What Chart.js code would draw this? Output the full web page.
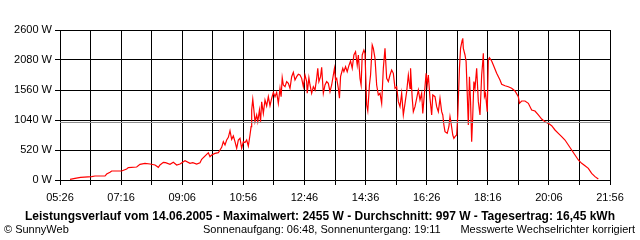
<!DOCTYPE html>
<html>
<head>
<meta charset="utf-8">
<script src="https://cdn.jsdelivr.net/npm/chart.js@4.4.1/dist/chart.umd.min.js"></script>
<style>
    body { margin: 0; background: #fff; }
    #wrap { position: relative; width: 640px; height: 240px; font-family: "Liberation Sans", Arial, sans-serif; color: #000; }
    #chart { position: absolute; left: 0; top: 0; }
    .txt { position: absolute; white-space: nowrap; font-size: 11px; line-height: 12px; }
    #title { left: 0; width: 640px; text-align: center; top: 209px; font-weight: bold; font-size: 12px; line-height: 14px; }
    #copy { left: 4px; top: 223px; }
    #sun { left: 203px; top: 223px; }
    #note { right: 5px; top: 223px; }
</style>
</head>
<body>
<div id="wrap">
    <canvas id="chart" width="640" height="240"></canvas>
    <div class="txt" id="title">Leistungsverlauf vom 14.06.2005 - Maximalwert: 2455 W - Durchschnitt: 997 W - Tagesertrag: 16,45 kWh</div>
    <div class="txt" id="copy">© SunnyWeb</div>
    <div class="txt" id="sun">Sonnenaufgang: 06:48, Sonnenuntergang: 19:11</div>
    <div class="txt" id="note">Messwerte Wechselrichter korrigiert</div>
</div>
<script>
// time of day in minutes (05:26 = 326 ... 21:56 = 1316)
var times = [
    344, 353, 363, 383, 389, 407, 410, 416, 419, 437, 446, 449, 464, 470, 479, 488, 497, 503, 506, 512,
    516, 524, 530, 536, 542, 551, 560, 565, 572, 578, 581, 590, 593, 596, 599, 605, 611, 614, 617, 620,
    623, 626, 629, 632, 635, 638, 641, 644, 647, 650, 653, 656, 659, 662, 665, 668, 670, 671, 673, 675,
    677, 680, 682, 685, 687, 689, 692, 695, 698, 701, 704, 707, 710, 713, 716, 719, 722, 724, 726, 728,
    731, 734, 737, 740, 743, 746, 749, 752, 755, 758, 761, 764, 767, 770, 771, 774, 776, 779, 782, 785,
    788, 790, 792, 795, 797, 800, 803, 806, 809, 812, 815, 818, 820, 822, 824, 827, 829, 831, 835, 837,
    840, 843, 846, 849, 852, 855, 858, 861, 863, 866, 868, 870, 873, 875, 878, 880, 883, 885, 888, 890,
    893, 896, 899, 902, 905, 908, 911, 914, 917, 920, 923, 926, 929, 932, 935, 938, 941, 944, 947, 950,
    953, 956, 957, 960, 962, 965, 968, 971, 974, 977, 979, 982, 985, 987, 989, 992, 995, 997, 1001, 1004,
    1007, 1010, 1013, 1015, 1017, 1019, 1023, 1026, 1028, 1030, 1033, 1035, 1037, 1040, 1042, 1045, 1047, 1050, 1051, 1052,
    1055, 1057, 1059, 1061, 1063, 1065, 1067, 1069, 1071, 1073, 1076, 1079, 1082, 1085, 1087, 1088, 1090, 1092, 1095, 1097,
    1099, 1103, 1106, 1112, 1118, 1121, 1127, 1133, 1139, 1145, 1151, 1153, 1157, 1163, 1169, 1175, 1181, 1187, 1193, 1199,
    1205, 1211, 1217, 1223, 1229, 1235, 1241, 1247, 1253, 1259, 1265, 1271, 1277, 1283, 1289, 1295
];
// power in W
var watts = [
    12, 29, 47, 58, 69, 69, 104, 133, 156, 156, 190, 214, 225, 271, 289, 277, 260, 220, 260, 306,
    300, 271, 306, 260, 277, 335, 289, 300, 277, 300, 358, 445, 473, 404, 433, 462, 473, 520, 566, 664,
    607, 693, 740, 855, 705, 763, 664, 549, 693, 722, 549, 664, 650, 693, 589, 780, 924, 1213, 1398, 1213,
    1011, 1127, 1011, 1213, 1011, 1357, 1155, 1387, 1283, 1444, 1288, 1416, 1520, 1444, 1520, 1329, 1589, 1444, 1774, 1647,
    1617, 1705, 1676, 1589, 1791, 1867, 1733, 1791, 1832, 1820, 1762, 1617, 1820, 1705, 1503, 1774, 1647, 1503, 1617, 1560,
    1762, 1936, 1705, 1791, 1953, 1503, 1647, 1705, 1676, 1531, 1647, 1820, 1936, 1733, 1762, 1589, 1416, 1791, 1936, 1878,
    1964, 1878, 1982, 2063, 1936, 2167, 2224, 1993, 2167, 1762, 1647, 2167, 2253, 2195, 1300, 1196, 1647, 1820, 2340, 2282,
    2109, 1647, 1473, 1503, 1329, 1936, 2282, 1762, 1705, 1820, 1907, 1849, 1589, 1617, 1358, 1271, 1503, 1127, 1329, 1531,
    1820, 1589, 1936, 1416, 1184, 1271, 1416, 1560, 1387, 1503, 1155, 1503, 1849, 1647, 1820, 1416, 1127, 1473, 1444, 1271,
    1184, 1416, 1184, 1127, 953, 837, 809, 924, 1098, 982, 780, 722, 751, 780, 1127, 1936, 2282, 2427, 2455, 2282,
    2167, 2051, 1503, 953, 1791, 1358, 664, 1127, 1705, 1589, 1936, 1358, 1127, 1820, 2051, 2195, 1444, 1503, 1184, 2080,
    2120, 2063, 1993, 1849, 1733, 1660, 1634, 1617, 1589, 1543, 1444, 1329, 1369, 1369, 1329, 1213, 1196, 1127, 1057, 1011,
    982, 941, 867, 809, 751, 693, 607, 520, 433, 347, 289, 248, 202, 116, 58, 17
];
var averageW = 997;
var xTickLabels = ["05:26", "07:16", "09:06", "10:56", "12:46", "14:36", "16:26", "18:16", "20:06", "21:56"];
var yTicks = [0, 520, 1040, 1560, 2080, 2600];

var xMin = 326, xMax = 1316, xStep = 55;

var points = [];
for (var i = 0; i < times.length; i++) {
    points.push({ x: times[i], y: watts[i] });
}

var ctx = document.getElementById("chart").getContext("2d");
var myChart = new Chart(ctx, {
    type: "line",
    data: {
        datasets: [
            {
                label: "Durchschnitt",
                data: [{ x: xMin, y: averageW }, { x: xMax, y: averageW }],
                borderColor: "#8c8c8c",
                borderWidth: 1,
                pointRadius: 0,
            },
            {
                label: "Leistung",
                data: points,
                borderColor: "#ff0000",
                borderWidth: 1.2,
                pointRadius: 0,
                tension: 0,
            },
        ],
    },
    options: {
        responsive: false,
        animation: false,
        layout: { padding: { top: 30, right: 30, left: 0, bottom: 0 } },
        plugins: {
            legend: { display: false },
            tooltip: { enabled: false },
        },
        scales: {
            x: {
                type: "linear",
                min: xMin,
                max: xMax,
                afterFit: function (scale) { scale.height = 60; },
                grid: { color: "#000", lineWidth: 1, tickLength: 5, tickColor: "#000" },
                border: { color: "#000", width: 1 },
                ticks: {
                    stepSize: xStep,
                    autoSkip: false,
                    maxRotation: 0,
                    padding: 6,
                    color: "#000",
                    font: { family: "Liberation Sans", size: 11 },
                    callback: function (v, idx) {
                        return idx % 2 === 0 ? xTickLabels[idx / 2] : "";
                    },
                },
            },
            y: {
                min: 0,
                max: 2600,
                afterFit: function (scale) { scale.width = 60; },
                afterBuildTicks: function (scale) {
                    scale.ticks = yTicks.map(function (v) { return { value: v }; });
                },
                grid: { color: "#000", lineWidth: 1, tickLength: 5, tickColor: "#000" },
                border: { color: "#000", width: 1 },
                ticks: {
                    padding: 3,
                    color: "#000",
                    font: { family: "Liberation Sans", size: 11 },
                    callback: function (v) { return v + " W"; },
                },
            },
        },
    },
});
</script>
</body>
</html>
